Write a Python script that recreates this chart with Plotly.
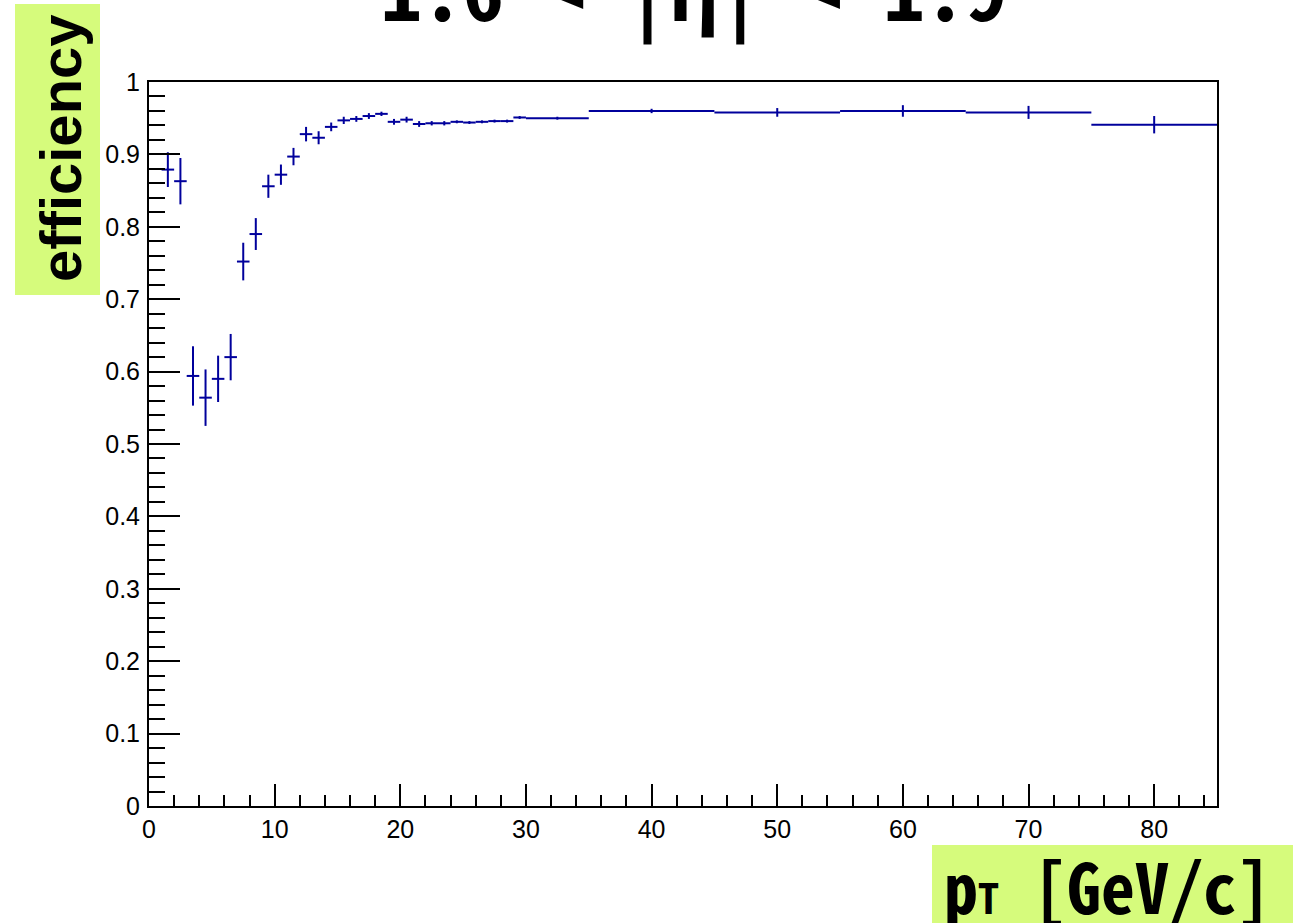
import plotly.graph_objects as go

# bin centres (GeV/c), half bin widths, efficiency and its error
pt = [1.5, 2.5, 3.5, 4.5, 5.5, 6.5, 7.5, 8.5, 9.5, 10.5, 11.5, 12.5, 13.5, 14.5,
      15.5, 16.5, 17.5, 18.5, 19.5, 20.5, 21.5, 22.5, 23.5, 24.5, 25.5, 26.5,
      27.5, 28.5, 29.5, 32.5, 40, 50, 60, 70, 80]
pt_halfwidth = [0.5] * 29 + [2.5, 5, 5, 5, 5, 5]
eff = [0.879, 0.863, 0.594, 0.564, 0.590, 0.620, 0.752, 0.790, 0.856, 0.872,
       0.897, 0.928, 0.923, 0.938, 0.947, 0.949, 0.953, 0.956, 0.945, 0.948,
       0.942, 0.943, 0.943, 0.945, 0.944, 0.945, 0.946, 0.946, 0.951, 0.950,
       0.960, 0.958, 0.960, 0.958, 0.941]
eff_err = [0.024, 0.032, 0.041, 0.039, 0.032, 0.032, 0.026, 0.022, 0.016, 0.014,
           0.012, 0.010, 0.009, 0.006, 0.005, 0.004, 0.004, 0.003, 0.004, 0.004,
           0.004, 0.003, 0.003, 0.002, 0.002, 0.002, 0.002, 0.002, 0.002, 0.002,
           0.003, 0.006, 0.008, 0.009, 0.012]

title_text = "1.6 &lt; |η| &lt; 1.9"
x_title = "p<span style=\"font-size:42px\">T</span> [GeV/c]"
y_title = "efficiency"

W, H = 1300, 923
L, R, T, B = 149, 83, 82, 117
pw, ph = W - L - R, H - T - B


def px(xp):
    return (xp - L) / pw


def py(yp):
    return (H - B - yp) / ph


blue = "#00009c"
green = "#d6fb7c"

fig = go.Figure()
fig.add_trace(go.Scatter(
    x=pt, y=eff, mode="markers",
    marker=dict(size=1, color=blue, opacity=0),
    error_x=dict(type="data", array=pt_halfwidth, symmetric=True, width=0,
                 thickness=2, color=blue),
    error_y=dict(type="data", array=eff_err, symmetric=True, width=0,
                 thickness=2, color=blue),
    showlegend=False, hoverinfo="skip",
))

tickfont = dict(family="Liberation Sans, Arial, Helvetica", size=25, color="black")

fig.update_layout(
    width=W, height=H, autosize=False,
    margin=dict(l=L, r=R, t=T, b=B, pad=0),
    paper_bgcolor="white", plot_bgcolor="white",
    xaxis=dict(range=[0, 85], dtick=10, tick0=0, showgrid=False, zeroline=False,
               showline=True, linecolor="black", linewidth=2, mirror=True,
               ticks="inside", ticklen=22, tickwidth=1.5, tickcolor="black",
               minor=dict(dtick=2, ticks="inside", ticklen=11, tickwidth=1.5,
                          tickcolor="black", showgrid=False),
               tickfont=tickfont, ticklabelstandoff=0),
    yaxis=dict(range=[0, 1], dtick=0.1, tick0=0, showgrid=False, zeroline=False,
               showline=True, linecolor="black", linewidth=2, mirror=True,
               ticks="inside", ticklen=31, tickwidth=1.5, tickcolor="black",
               minor=dict(dtick=0.02, ticks="inside", ticklen=16, tickwidth=1.5,
                          tickcolor="black", showgrid=False),
               tickfont=tickfont, ticklabelstandoff=2),
    shapes=[
        dict(type="rect", xref="paper", yref="paper", x0=px(15), x1=px(100),
             y0=py(295), y1=py(4), fillcolor=green, line=dict(width=0), layer="below"),
        dict(type="rect", xref="paper", yref="paper", x0=px(932), x1=px(1293),
             y0=py(923), y1=py(845), fillcolor=green, line=dict(width=0), layer="below"),
    ],
    annotations=[
        dict(text=title_text, xref="paper", yref="paper", x=px(694), y=py(-15),
             xanchor="center", yanchor="middle", showarrow=False,
             font=dict(family="Noto Sans Mono CJK JP, Noto Sans CJK JP", size=82,
                       color="black", weight="bold")),
        dict(text=x_title, xref="paper", yref="paper", x=px(942), y=py(884),
             xanchor="left", yanchor="middle", showarrow=False,
             font=dict(family="Noto Sans Mono CJK JP, Noto Sans CJK JP", size=68,
                       color="black", weight="bold")),
        dict(text=y_title, xref="paper", yref="paper", x=px(60), y=py(148),
             xanchor="center", yanchor="middle", showarrow=False, textangle=-90,
             font=dict(family="Liberation Sans, Arial, Helvetica", size=58,
                       color="black", weight="bold")),
    ],
)

fig.write_html("out.html", config={"displayModeBar": False},
               post_script="document.body.style.margin='0px';")
